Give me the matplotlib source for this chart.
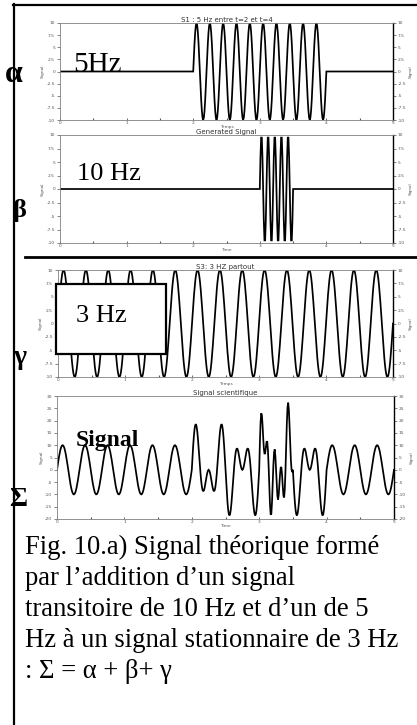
import numpy as np
import matplotlib
matplotlib.use("Agg")
import matplotlib.pyplot as plt
from matplotlib.patches import Rectangle
from matplotlib.lines import Line2D

# ---------------- data ----------------
sample_rate = 100          # samples per second
t_end = 5.0                # seconds shown on each panel
amplitude = 10.0           # peak value of every component
freq_alpha = 5.0           # Hz, alpha burst
window_alpha = (2.0, 4.0)  # s
freq_beta = 10.0           # Hz, beta burst
window_beta = (3.0, 3.5)   # s
freq_gamma = 3.0           # Hz, stationary gamma signal
window_gamma = (0.0, 5.0)  # s

panel_titles = ["S1 : 5 Hz entre t=2 et t=4", "Generated Signal",
                "S3: 3 HZ partout", "Signal scientifique"]
panel_xlabels = ["Temps", "Time", "Temps", "Time"]
panel_ylabel = "Signal"
x_ticks = [0, 1, 2, 3, 4, 5]
x_minor_ticks = [0.5, 1.5, 2.5, 3.5, 4.5]
y_ticks_comp = [-10, -7.5, -5, -2.5, 0, 2.5, 5, 7.5, 10]
y_labels_comp = ["-10", "-7.5", "-5", "-2.5", "0", "2.5", "5", "7.5", "10"]
y_ticks_sum = [-20, -15, -10, -5, 0, 5, 10, 15, 20, 25, 30]
y_labels_sum = ["-20", "-15", "-10", "-5", "0", "5", "10", "15", "20", "25", "30"]

greek_labels = ["α", "β", "γ", "Σ"]
panel_notes = ["5Hz", "10 Hz", "3 Hz", "Signal"]
caption_lines = ["Fig. 10.a) Signal théorique formé",
                 "par l\u2019addition d\u2019un signal",
                 "transitoire de 10 Hz et d\u2019un de 5",
                 "Hz à un signal stationnaire de 3 Hz",
                 ": Σ = α + β+ γ"]

# ---------------- signals ----------------
t = np.arange(0, t_end + 1e-9, 1.0 / sample_rate)


def burst(freq, window):
    a, b = window
    on = (t >= a - 1e-9) & (t <= b + 1e-9)
    return np.where(on, amplitude * np.sin(2 * np.pi * freq * (t - a)), 0.0)


alpha = burst(freq_alpha, window_alpha)
beta = burst(freq_beta, window_beta)
gamma = burst(freq_gamma, window_gamma)
sigma = alpha + beta + gamma

# ---------------- figure ----------------
W, H = 417, 725
fig = plt.figure(figsize=(W / 100, H / 100), dpi=100)
fig.patch.set_facecolor("white")


def rect(l, r, top, bot):
    return [l / W, 1 - bot / H, (r - l) / W, (bot - top) / H]


def fx(x):
    return x / W


def fy(y):
    return 1 - y / H


panels = [
    (alpha, rect(60, 393, 23, 120), (-10, 10), y_ticks_comp, y_labels_comp),
    (beta, rect(60, 393, 135, 243), (-10, 10), y_ticks_comp, y_labels_comp),
    (gamma, rect(58, 393, 270, 377), (-10, 10), y_ticks_comp, y_labels_comp),
    (sigma, rect(57, 394, 396, 519), (-20, 30), y_ticks_sum, y_labels_sum),
]

grey = "#808080"
for i, (sig, pos, ylim, yt, ytl) in enumerate(panels):
    ax = fig.add_axes(pos)
    ax.plot(t, sig, color="black", lw=1.25, solid_joinstyle="miter")
    ax.set_xlim(0, t_end)
    ax.set_ylim(*ylim)
    ax.set_xticks(x_ticks)
    ax.set_xticks(x_minor_ticks, minor=True)
    ax.set_xticklabels([str(v) for v in x_ticks])
    ax.set_yticks(yt)
    ax.set_yticklabels(ytl)
    ax.tick_params(axis="y", which="both", left=True, right=True,
                   labelleft=True, labelright=True, length=2.5, width=0.5,
                   direction="out", labelsize=3.2, labelcolor="#555555",
                   pad=1.0, color="#555555")
    ax.tick_params(axis="x", which="major", length=1.5, width=0.6,
                   direction="in", labelsize=3.2, labelcolor="#555555",
                   pad=0.6, color="#555555")
    ax.tick_params(axis="x", which="minor", length=1.5, width=0.8,
                   direction="in", color="#555555")
    for s in ["left", "top", "bottom"]:
        ax.spines[s].set_color(grey)
        ax.spines[s].set_linewidth(0.6)
    ax.spines["right"].set_color("black")
    ax.spines["right"].set_linewidth(1.0)
    ax.set_title(panel_titles[i], fontsize=5.0, pad=0.6, color="#333333",
                 family="DejaVu Sans")
    ax.set_xlabel(panel_xlabels[i], fontsize=3.2, labelpad=0.2,
                  color="#555555")
    ax.set_ylabel(panel_ylabel, fontsize=3.2, labelpad=1.0, color="#555555")
    ax.text(1.052, 0.5, panel_ylabel, rotation=90, fontsize=3.0,
            color="#555555", transform=ax.transAxes, ha="center",
            va="center", clip_on=False)

# frame of the scanned page
fig.add_artist(Line2D([fx(14), fx(14)], [fy(4), fy(725)], color="black",
                      lw=1.6, transform=fig.transFigure))
fig.add_artist(Line2D([fx(13), fx(417)], [fy(4.5), fy(4.5)], color="black",
                      lw=1.6, transform=fig.transFigure))
# separator line
fig.add_artist(Line2D([fx(25), fx(417)], [fy(257.5), fy(257.5)],
                      color="black", lw=2.0, transform=fig.transFigure))

serif = ["Liberation Serif", "DejaVu Serif"]

# greek labels
fig.text(fx(14), fy(75), greek_labels[0], fontsize=23, fontweight="bold",
         family=serif, ha="center", va="center")
fig.text(fx(19), fy(211), greek_labels[1], fontsize=19, fontweight="bold",
         family=serif, ha="center", va="center")
fig.text(fx(20), fy(358), greek_labels[2], fontsize=20, fontweight="bold",
         family=serif, ha="center", va="center")
fig.text(fx(18), fy(499), greek_labels[3], fontsize=20, fontweight="bold",
         family=serif, ha="center", va="center")

# notes inside the panels
fig.text(fx(73), fy(72), panel_notes[0], fontsize=21, family=serif,
         ha="left", va="baseline")
fig.text(fx(77), fy(180), panel_notes[1], fontsize=19, family=serif,
         ha="left", va="baseline")
fig.add_artist(Rectangle((fx(56), fy(354)), (166 - 56) / W, (354 - 284) / H,
                         facecolor="white", edgecolor="black", lw=1.6,
                         transform=fig.transFigure, zorder=5))
fig.text(fx(76), fy(322), panel_notes[2], fontsize=19, family=serif,
         ha="left", va="baseline", zorder=6)
fig.text(fx(76), fy(446), panel_notes[3], fontsize=17, fontweight="bold",
         family=serif, ha="left", va="baseline", zorder=6)

# caption
baselines = [554, 585, 616, 647, 678]
for line, yb in zip(caption_lines, baselines):
    fig.text(fx(25), fy(yb), line, fontsize=19.2, family=serif,
             ha="left", va="baseline")

fig.savefig("out.png", dpi=100, facecolor="white")
